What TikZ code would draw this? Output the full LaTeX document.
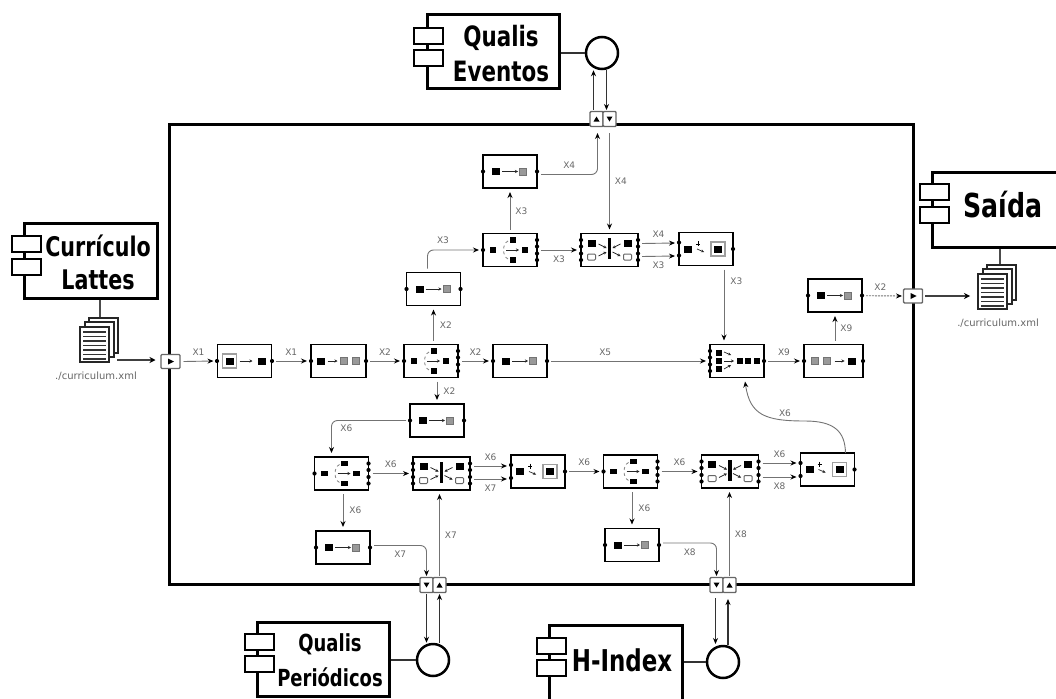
\documentclass[tikz,border=0pt]{standalone}
\usepackage{fontspec}
\usepackage{tikz}
\usetikzlibrary{arrows.meta,positioning,calc}
\setsansfont{DejaVu Sans}
\newfontfamily\compfont[FakeStretch=0.85]{DejaVu Sans Condensed}
\newcommand{\blk}[2]{\fill[black] (#1-4,#2-3.5) rectangle +(8,7);}
\newcommand{\sml}[2]{\fill[black] (#1-3.3,#2-2.8) rectangle +(6.6,5.6);}
\newcommand{\gry}[2]{\filldraw[fill=gray!80,draw=gray!90!black,line width=.5pt] (#1-3.7,#2-3.5) rectangle +(7.4,7);}
\newcommand{\wht}[2]{\draw[gray!80!black,line width=1pt,rounded corners=1pt] (#1-4,#2-3) rectangle +(8,6);}
\newcommand{\dbl}[2]{\draw[gray!75,line width=1.4pt] (#1-7,#2-7) rectangle +(14,14); \fill[black] (#1-4,#2-3.5) rectangle +(8,7);}
\newcommand{\tinyarr}[2]{\draw[-{Stealth[length=3pt,width=3pt]},black!85,line width=.7pt] (#1) -- (#2);}
\newcommand{\pin}[2]{\fill[black] (#1,#2) circle (2.1);}
\tikzset{
  mapicon/.pic={\blk{-14}{0} \gry{13}{0} \tinyarr{-8,0}{8,0} \pin{-27}{0} \pin{27}{0}},
  convicon/.pic={\blk{-17.5}{0} \tinyarr{-11,0}{-1,0} \gry{5.5}{0} \gry{17.5}{0} \pin{-27.5}{0} \pin{27.5}{0}},
  backicon/.pic={\gry{-19}{0} \gry{-7}{0} \tinyarr{1,0}{11,0} \blk{18}{0} \pin{-29.5}{0} \pin{29.5}{0}},
  readicon/.pic={\dbl{-15}{0} \tinyarr{-5,0}{8,0} \blk{17}{0} \pin{-27.5}{0} \pin{27.5}{0}},
  spliticon/.pic={\sml{-17}{0} \sml{15}{0} \sml{3}{-10} \sml{3}{10}
    \draw[gray,dashed,line width=.8pt] (-2,-9) .. controls (-8,-6) and (-8,6) .. (-2,9);
    \tinyarr{-4,0}{9,0}
    \pin{-27}{0} \foreach \yy in {-10,-3.5,3.5,10} {\pin{27}{\yy}}},
  joinicon/.pic={\blk{-18}{-7} \blk{18}{-7} \wht{-18}{7} \wht{18}{7}
    \fill[black] (-1.7,-12) rectangle (1.7,9);
    \tinyarr{-11,-6}{-3,-2} \tinyarr{-11,6}{-3,2} \tinyarr{11,-6}{3,-2} \tinyarr{3,2}{11,6}
    \foreach \yy in {-10,-3.5,3.5,10} {\pin{-28.5}{\yy} \pin{28.5}{\yy}}},
  writeicon/.pic={\blk{-18}{0} \dbl{12}{0}
    \draw[black,line width=.7pt] (-8,-8) -- (-8,-3) (-10,-5) -- (-6,-5);
    \tinyarr{-9,0}{-2,3} \pin{-27}{-6.5} \pin{-27}{6.5} \pin{27}{0}},
  mergeicon/.pic={\sml{-18}{-8} \sml{-18}{0} \sml{-18}{8}
    \sml{3}{0} \sml{11}{0} \sml{20}{0}
    \tinyarr{-13,-9}{-6,-6} \tinyarr{-13,0}{-3,0} \tinyarr{-13,8}{-6,4}
    \foreach \yy in {-10,-3.5,3.5,10} {\pin{-27}{\yy}} \pin{27}{0}},
  docicon/.pic={
    \foreach \dd in {9,5,0} {\filldraw[fill=white,draw=black!85,line width=1.2pt] (-15+\dd,-18-\dd) rectangle +(29,35);}
    \foreach \yy in {-13,-8.5,...,14} {\draw[black!80,line width=1.3pt] (-12,\yy) -- (11,\yy);}},
  tripicon/.pic={\fill[black] (-2.5,-3) -- (3.5,0) -- (-2.5,3) -- cycle;},
  upicon/.pic={\fill[black] (-3,2.5) -- (0,-2.5) -- (3,2.5) -- cycle;},
  downicon/.pic={\fill[black] (-3,-2.5) -- (0,2.5) -- (3,-2.5) -- cycle;}
}
\begin{document}
\begin{tikzpicture}[
  x=1pt, y=-1pt,
  >=Stealth,
  flow/.style={-{Stealth[length=6pt,width=5pt,black]}, black!55, line width=.9pt},
  bentflow/.style={flow, rounded corners=6pt},
  ifc/.style={-{Stealth[length=6pt,width=5pt,black]}, black!80, line width=1.2pt},
  fat/.style={-{Stealth[length=6pt,width=6pt,black]}, black!75, line width=1.8pt},
  block/.style={draw, line width=1.9pt, minimum width=54pt, minimum height=33pt, inner sep=0pt, outer sep=4pt, fill=white},
  port/.style={draw=black!60, line width=1.4pt, rounded corners=1pt, fill=white, minimum width=13pt, minimum height=15pt, inner sep=0pt, outer sep=1.5pt},
  portone/.style={port, minimum width=19pt, minimum height=14pt},
  comp/.style={draw, line width=3pt, fill=white, inner sep=0pt},
  tab/.style={draw, line width=2pt, fill=white, minimum width=29pt, minimum height=16pt, inner sep=0pt},
  ball/.style={draw, circle, line width=2.5pt, minimum size=32pt, inner sep=0pt, fill=white},
  comptext/.style={align=center, font=\compfont\bfseries\fontsize{28}{35}\selectfont},
  lab/.style={font=\sffamily\fontsize{9}{9}\selectfont, text=black!60, inner sep=0pt},
  file/.style={font=\sffamily\fontsize{10}{10}\selectfont, text=black!60, inner sep=0pt}
]
\useasboundingbox (0,0) rectangle (1056,698);
\node[draw, line width=3pt, minimum width=744pt, minimum height=460pt] (frame) at (541,354) {};

% components
\node[comp, minimum width=132pt, minimum height=74pt] (qe) at (493,52) {};
\node[tab] (qe1) at (428,36) {};
\node[tab] (qe2) at (428,58) {};
\node[comptext] (qeT) at (501,54) {Qualis\\Eventos};
\node[ball] (qeB) at (602,53) {};
\draw[line width=1.6pt, black!80] (qe.east |- qeB) -- (qeB);

\node[comp, minimum width=133pt, minimum height=75pt] (cl) at (90.5,260.5) {};
\node[tab] (cl1) at (26,243.5) {};
\node[tab] (cl2) at (26,266.5) {};
\node[comptext, font=\compfont\bfseries\fontsize{27}{33}\selectfont] (clT) at (98,262) {Currículo\\Lattes};

\node[comp, minimum width=136pt, minimum height=75pt] (sa) at (1000,209.5) {};
\node[tab] (sa1) at (934,191.5) {};
\node[tab] (sa2) at (934,214.5) {};
\node[comptext, font=\compfont\bfseries\fontsize{33}{35}\selectfont] (saT) at (1003,205) {Saída};

\node[comp, minimum width=132pt, minimum height=74pt] (qp) at (323,659) {};
\node[tab] (qp1) at (259,641.5) {};
\node[tab] (qp2) at (259,664) {};
\node[comptext, font=\compfont\bfseries\fontsize{23.5}{35}\selectfont] (qpT) at (330,660) {Qualis\\Periódicos};
\node[ball] (qpB) at (433,660) {};
\draw[line width=1.6pt, black!80] (qp.east |- qpB) -- (qpB);

\node[comp, minimum width=133pt, minimum height=75pt] (hi) at (615.5,662.5) {};
\node[tab] (hi1) at (551,645.5) {};
\node[tab] (hi2) at (551,667.5) {};
\node[comptext, font=\compfont\bfseries\fontsize{30}{35}\selectfont] (hiT) at (622,660) {H-Index};
\node[ball] (hiB) at (723,662) {};
\draw[line width=1.6pt, black!80] (hi.east |- hiB) -- (hiB);

% ports on the frame
\node[portone] (pi) at (170.5,361.5) {}; \pic at (pi) {tripicon};
\node[portone] (po) at (913,296) {}; \pic at (po) {tripicon};
\node[port] (peU) at (596.5,119) {}; \pic at (peU) {upicon};
\node[port] (peD) at (609.5,119) {}; \pic at (peD) {downicon};
\node[port] (pqD) at (426.5,585) {}; \pic at (pqD) {downicon};
\node[port] (pqU) at (439.5,585) {}; \pic at (pqU) {upicon};
\node[port] (phD) at (716.5,585) {}; \pic at (phD) {downicon};
\node[port] (phU) at (729.5,585) {}; \pic at (phU) {upicon};

% documents
\draw[line width=1.8pt, black!70] (cl.south -| 100,0) -- (100,320);
\draw[line width=1.8pt, black!70] (sa.south) -- (1000,268);
\pic at (95,345) {docicon};
\coordinate (docI) at (117,360);
\node[file] (fileI) at (96,376) {./curriculum.xml};
\pic at (993,292) {docicon};
\coordinate (docO) at (970,296);
\node[file] (fileO) at (998,323) {./curriculum.xml};
\draw[fat] (docI) -- ([xshift=-4pt]pi.west |- docI);
\draw[fat] (po) ++(12,0) -- (docO);

% main row
\node[block] (read) at (244.5,361) {}; \pic at (read) {readicon};
\node[block, minimum width=55pt] (conv) at (338.5,361) {}; \pic at (conv) {convicon};
\node[block] (sp1) at (431,361) {}; \pic at (sp1) {spliticon};
\node[block] (mp1) at (520,361) {}; \pic at (mp1) {mapicon};
\node[block] (mrg) at (737,361) {}; \pic at (mrg) {mergeicon};
\node[block, minimum width=59pt] (back) at (833.5,361) {}; \pic at (back) {backicon};
\node[block] (mp2) at (835,295.5) {}; \pic at (mp2) {mapicon};

% upper branch
\node[block] (mp3) at (433.5,289) {}; \pic at (mp3) {mapicon};
\node[block] (sp2) at (510,250) {}; \pic at (sp2) {spliticon};
\node[block, minimum width=57pt] (jn1) at (609.5,250) {}; \pic at (jn1) {joinicon};
\node[block] (wr1) at (706,249) {}; \pic at (wr1) {writeicon};
\node[block] (mp4) at (510,171.5) {}; \pic at (mp4) {mapicon};

% lower branch
\node[block] (mp5) at (437,420.5) {}; \pic at (mp5) {mapicon};
\node[block] (sp3) at (341.5,473.5) {}; \pic at (sp3) {spliticon};
\node[block, minimum width=57pt] (jn2) at (441.5,473.5) {}; \pic at (jn2) {joinicon};
\node[block] (wr2) at (538,471.5) {}; \pic at (wr2) {writeicon};
\node[block] (mp6) at (343,547.5) {}; \pic at (mp6) {mapicon};
\node[block] (sp4) at (630.5,471.5) {}; \pic at (sp4) {spliticon};
\node[block, minimum width=57pt] (jn3) at (730,471.5) {}; \pic at (jn3) {joinicon};
\node[block] (wr3) at (827.5,469.5) {}; \pic at (wr3) {writeicon};
\node[block] (mp7) at (632,545) {}; \pic at (mp7) {mapicon};

% connectors
\draw[flow] (pi) ++(13,0) -- (read.west) node[lab, midway, above=5pt] (x1a) {X1};
\draw[flow] (read) -- (conv) node[lab, pos=.5, above=5pt] (x1b) {X1};
\draw[flow] (conv) -- (sp1) node[lab, midway, above=5pt] (x2a) {X2};
\draw[flow] (sp1) -- (mp1) node[lab, midway, above=5pt] (x2b) {X2};
\draw[flow] (mp1) -- (mrg) node[lab, pos=.35, above=5pt] (x5a) {X5};
\draw[flow] (mrg) -- (back) node[lab, midway, above=5pt] (x9a) {X9};
\draw[flow] (back.north -| mp2.south) -- (mp2.south) node[lab, midway, right=5pt] (x9b) {X9};
\draw[flow, dash pattern=on 2pt off 1pt] (mp2) -- (po.west) node[lab, pos=.4, above=5pt] (x2e) {X2};

\draw[flow] (sp1.north -| mp3.south) -- (mp3.south) node[lab, midway, right=6pt] (x2c) {X2};
\draw[flow] (sp1.south -| mp5.north) -- (mp5.north) node[lab, midway, right=6pt] (x2d) {X2};
\draw[bentflow] ([xshift=-6pt]mp3.north) |- (sp2.west) node[lab, pos=.65, above=6pt] (x3a) {X3};
\draw[flow] (sp2.north) -- (mp4.south) node[lab, midway, right=5pt] (x3b) {X3};
\draw[flow] (sp2) -- (jn1) node[lab, midway, below=5pt] (x3c) {X3};
\draw[bentflow] ([yshift=-3pt]mp4.east) -| ([xshift=1pt,yshift=-5pt]peU.south) node[lab, pos=.25, above=6pt] (x4a) {X4};
\draw[flow] ([yshift=-5pt]peD.south) -- (jn1.north) node[lab, midway, right=5pt] (x4b) {X4};
\draw[flow] ([yshift=6.5pt]jn1.east) -- ([yshift=6pt]wr1.west) node[lab, midway, above=5pt] (x4c) {X4};
\draw[flow] ([yshift=-6.5pt]jn1.east) -- ([yshift=-7pt]wr1.west) node[lab, midway, below=5pt] (x3d) {X3};
\draw[flow] ([xshift=18pt]wr1.south) -- ([xshift=-13pt]mrg.north) node[lab, pos=.17, right=6pt] (x3e) {X3};

\draw[bentflow] (mp5.west) -| ([xshift=-10pt]sp3.north) node[lab, pos=.4, below=4pt] (x6a) {X6};
\draw[flow] (sp3) -- (jn2) node[lab, midway, above=5pt] (x6b) {X6};
\draw[flow] (sp3.south -| mp6.north) -- (mp6.north) node[lab, midway, right=6pt] (x6c) {X6};
\draw[bentflow] ([yshift=2pt]mp6.east) -| (pqD.north) node[lab, pos=.25, below=5pt] (x7a) {X7};
\draw[flow] (pqU.north) -- (pqU |- jn2.south) node[lab, midway, right=5pt] (x7b) {X7};
\draw[flow] ([yshift=7.5pt]jn2.east) -- ([yshift=5.5pt]wr2.west) node[lab, midway, above=5pt] (x6d) {X6};
\draw[flow] ([yshift=-5.5pt]jn2.east) -- ([yshift=-7.5pt]wr2.west) node[lab, midway, below=5pt] (x7c) {X7};
\draw[flow] (wr2) -- (sp4) node[lab, midway, above=5pt] (x6e) {X6};
\draw[flow] (sp4) -- (jn3) node[lab, midway, above=5pt] (x6f) {X6};
\draw[flow] (sp4.south -| mp7.north) -- (mp7.north) node[lab, midway, right=6pt] (x6g) {X6};
\draw[bentflow] ([yshift=2pt]mp7.east) -| (phD.north) node[lab, pos=.25, below=5pt] (x8a) {X8};
\draw[flow] (phU.north) -- (phU |- jn3.south) node[lab, midway, right=5pt] (x8b) {X8};
\draw[flow] ([yshift=8.5pt]jn3.east) -- ([yshift=6.5pt]wr3.west) node[lab, midway, above=5pt] (x6h) {X6};
\draw[flow] ([yshift=-5.5pt]jn3.east) -- ([yshift=-7.5pt]wr3.west) node[lab, midway, below=5pt] (x8c) {X8};
\draw[flow] ([xshift=18pt,yshift=-4pt]wr3.north) .. controls (845,432) and (835,421) .. (805,421) .. controls (765,421) and (750,415) .. ([xshift=8pt]mrg.south);
\node[lab] (x6i) at (785,413) {X6};

% required interfaces
\draw[ifc] ([xshift=-3pt]peU.north) -- ([xshift=-3pt]peU.north |- qeB.south);
\draw[ifc] ([xshift=-3pt]peD.north |- qeB.south) -- ([xshift=-3pt]peD.north);
\draw[ifc] (pqD.south) -- (pqD.south |- qpB.north);
\draw[ifc] (pqU.south |- qpB.north) -- (pqU.south);
\draw[ifc] (phD.south) ++(-1,4) -- (715.5,644);
\draw[ifc] (phU.south |- hiB.north) ++(-1.5,0) -- (728,599);
\end{tikzpicture}
\end{document}
